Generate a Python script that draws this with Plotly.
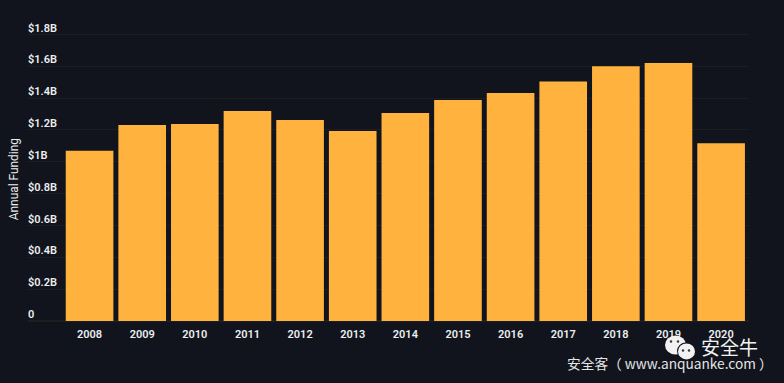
import plotly.graph_objects as go

years = ["2008","2009","2010","2011","2012","2013","2014","2015","2016","2017","2018","2019","2020"]
funding = [1.069e9,1.232e9,1.238e9,1.32e9,1.263e9,1.194e9,1.307e9,1.389e9,1.433e9,1.505e9,1.60e9,1.62e9,1.116e9]
tick_vals = [0,0.2e9,0.4e9,0.6e9,0.8e9,1.0e9,1.2e9,1.4e9,1.6e9,1.8e9]
tick_text = ["0","$0.2B","$0.4B","$0.6B","$0.8B","$1B","$1.2B","$1.4B","$1.6B","$1.8B"]

W, H = 784, 383
L, R, T, B = 28, 749, 12, 325.5
Y0, Y18 = 321.5, 34.5
BG = "#11141c"
TXT = "#eceef0"
scale = 1.8e9 / (Y0 - Y18)
fig = go.Figure(go.Bar(x=years, y=funding, width=0.905, marker=dict(color="#ffb33e", line=dict(width=0))))
fig.update_layout(
    width=W, height=H, autosize=False, paper_bgcolor=BG, plot_bgcolor=BG,
    margin=dict(l=L, r=W-R, t=T, b=H-B, pad=0), showlegend=False,
    font=dict(family="Roboto", color=TXT, size=11),
)
fig.update_xaxes(type="category", range=[-1.17, 12.53], showgrid=False, zeroline=False, showline=False,
                 ticks="", tickfont=dict(family="Roboto", size=11, weight=600, color=TXT), ticklabelstandoff=1)
fig.update_yaxes(range=[-(B-Y0)*scale, (Y0-T)*scale], tickvals=tick_vals, ticktext=tick_text,
                 ticklabelposition="inside top", ticklabelstandoff=-3, ticklabelshift=1,
                 showgrid=True, gridcolor="#1c1e22", gridwidth=1,
                 zeroline=True, zerolinecolor="#1c1e22", showline=False, ticks="",
                 tickfont=dict(family="Roboto", size=11, weight=600, color=TXT))
fig.add_annotation(text="Annual Funding", xref="paper", yref="paper", x=-14.5/(R-L), y=(B-180)/(B-T),
                   textangle=-90, showarrow=False, font=dict(family="Roboto", size=11.9, color=TXT), xanchor="center", yanchor="middle")
fig.add_annotation(text="安全牛", xref="paper", yref="paper", x=(729-L)/(R-L), y=(B-347)/(B-T), showarrow=False,
                   font=dict(family="Noto Sans CJK SC", size=19, color="#f2f2f2"), xanchor="center", yanchor="middle")
fig.add_annotation(text="安全客（ www.anquanke.com ）", xref="paper", yref="paper", x=(669.5-L)/(R-L), y=(B-364)/(B-T), showarrow=False,
                   font=dict(family="Noto Sans CJK SC", size=13.7, color="#e4e4e4"), xanchor="center", yanchor="middle")
def px(x0,y0,x1,y1,col):
    fig.add_shape(type="circle", xref="paper", yref="paper", x0=(x0-L)/(R-L), x1=(x1-L)/(R-L),
                  y0=(B-y1)/(B-T), y1=(B-y0)/(B-T), fillcolor=col, line=dict(width=0), layer="above")
px(665,336,686,355,"#f2f2f2")
px(677,343,695,360,"#11141c")
px(678,344,695,360,"#f2f2f2")
for a,b in [(671,342),(678,342),(683,351),(689,351)]:
    px(a-1.2,b-1.2,a+1.2,b+1.2,"#333333")
fig.write_html("out.html", config=dict(displayModeBar=False), post_script="document.body.style.margin='0';document.body.style.background='#11141c';document.documentElement.style.overflow='hidden';window.dispatchEvent(new Event('resize'));")
